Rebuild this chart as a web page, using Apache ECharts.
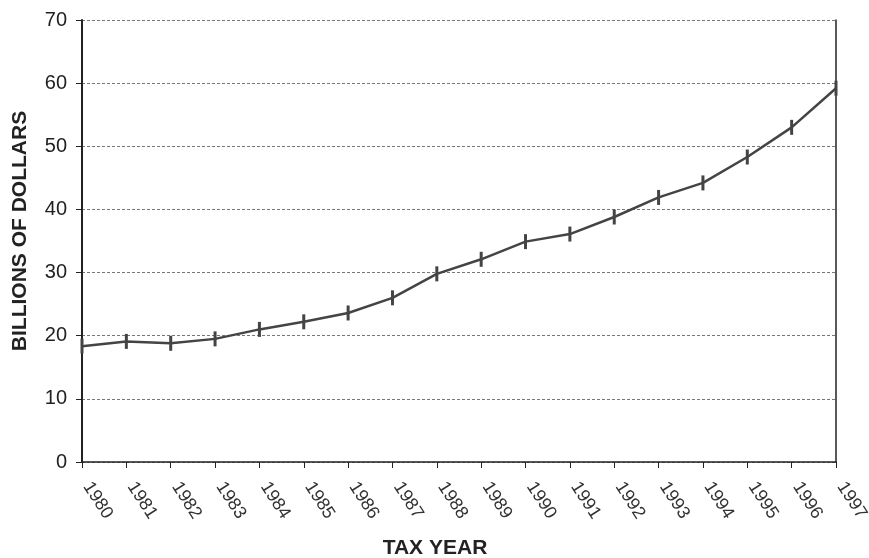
<!DOCTYPE html>
<html>
<head>
<meta charset="utf-8">
<script src="https://cdn.jsdelivr.net/npm/echarts@6/dist/echarts.min.js"></script>
<style>html,body{margin:0;padding:0;background:#fff;}#c{width:869px;height:558px;}</style>
</head>
<body>
<div id="c"></div>
<script>
const years = ['1980','1981','1982','1983','1984','1985','1986','1987','1988','1989','1990','1991','1992','1993','1994','1995','1996','1997'];
const values = [18.35, 19.1, 18.8, 19.5, 21.0, 22.2, 23.6, 26.0, 29.8, 32.1, 34.9, 36.1, 38.8, 41.9, 44.2, 48.3, 53.0, 59.2];
const yTicks = [0, 10, 20, 30, 40, 50, 60, 70];

const chart = echarts.init(document.getElementById('c'), null, {renderer: 'canvas'});
chart.setOption({
  animation: false,
  backgroundColor: '#fff',
  grid: {left: 82, right: 33, top: 20, bottom: 96, containLabel: false, outerBoundsMode: 'none'},
  xAxis: {
    type: 'category',
    data: years,
    boundaryGap: false,
    name: 'TAX YEAR',
    nameLocation: 'middle',
    nameGap: 76,
    nameTextStyle: {fontFamily: 'Liberation Sans, Arial', fontWeight: 'bold', fontSize: 21, color: '#222', padding: [0, 48, 0, 0]},
    axisLine: {lineStyle: {color: '#222', width: 1.5}},
    axisTick: {show: true, alignWithLabel: true, length: 6, inside: false, lineStyle: {color: '#222', width: 1}},
    axisLabel: {rotate: -57, fontFamily: 'Liberation Sans, Arial', fontSize: 18, color: '#333', margin: 14, padding: [0, 0, 0, 9], interval: 0},
    splitLine: {show: false}
  },
  yAxis: [{
    type: 'value',
    min: 0, max: 70, interval: 10,
    name: 'BILLIONS OF DOLLARS',
    nameLocation: 'middle',
    nameGap: 51,
    nameTextStyle: {fontFamily: 'Liberation Sans, Arial', fontWeight: 'bold', fontSize: 21, color: '#222', padding: [0, 0, 0, 20]},
    axisLine: {show: true, lineStyle: {color: '#222', width: 2}},
    axisTick: {show: true, length: 6, lineStyle: {color: '#222', width: 1}},
    axisLabel: {fontFamily: 'Liberation Sans, Arial', fontSize: 20, color: '#222', margin: 15,
      formatter: function (v) { return yTicks.indexOf(v) >= 0 ? String(v) : ''; }},
    splitLine: {show: true, lineStyle: {color: '#555', type: [3, 2], width: 0.8}}
  }, {
    type: 'value',
    min: 0, max: 70, interval: 10,
    position: 'right',
    axisLine: {show: true, lineStyle: {color: '#222', width: 1.5}},
    axisTick: {show: false},
    axisLabel: {show: false},
    splitLine: {show: false}
  }],
  series: [{
    type: 'line',
    data: values,
    yAxisIndex: 0,
    symbol: 'rect',
    symbolSize: [3, 15],
    showAllSymbol: true,
    lineStyle: {color: '#444', width: 2.5},
    itemStyle: {color: '#444'},
    clip: false
  }]
});
</script>
</body>
</html>
